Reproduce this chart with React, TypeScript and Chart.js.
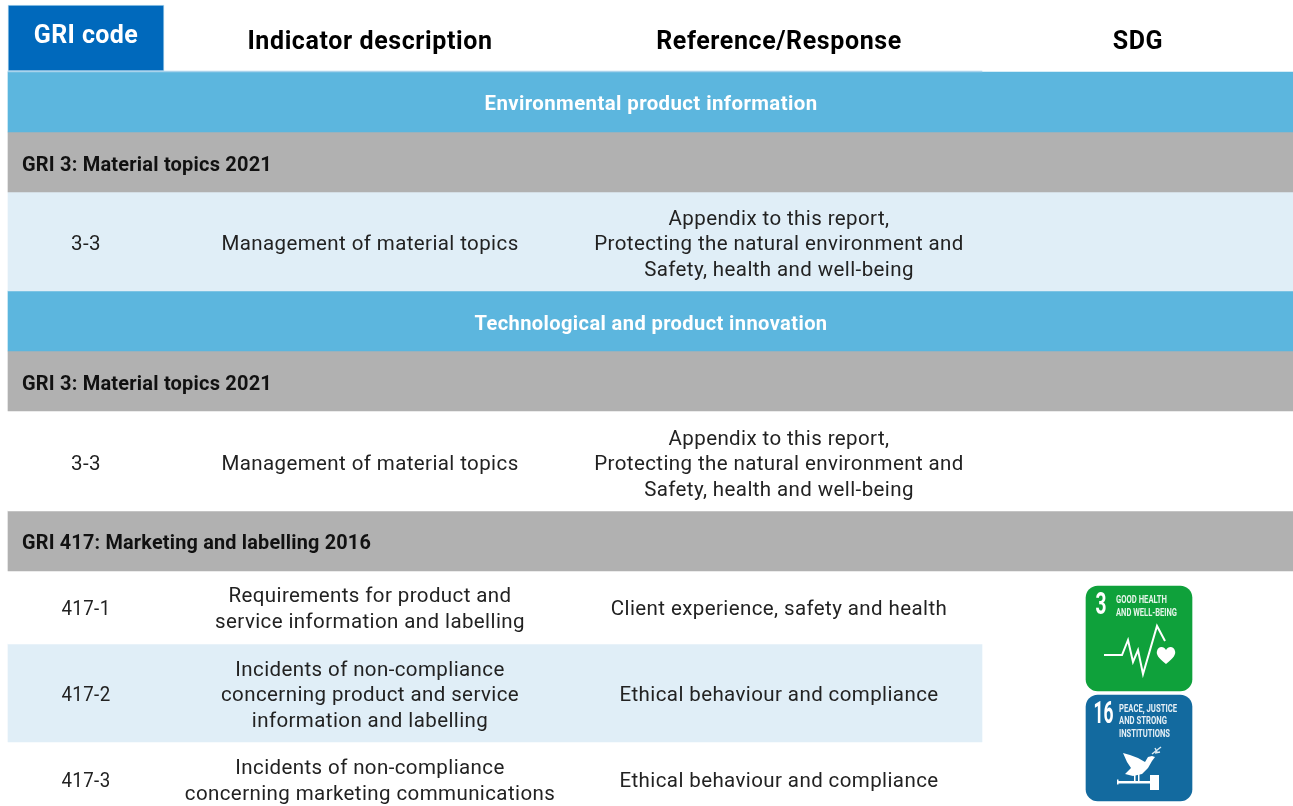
import React, { useEffect, useRef } from "react";
import { Chart, registerables } from "chart.js";

Chart.register(...registerables);

// ---- content ----
const columnHeaders = ["GRI code", "Indicator description", "Reference/Response", "SDG"];
const sectionTitles = ["Environmental product information", "Technological and product innovation"];
const groupTitles = ["GRI 3: Material topics 2021", "GRI 3: Material topics 2021", "GRI 417: Marketing and labelling 2016"];
const griCodes = ["3-3", "3-3", "417-1", "417-2", "417-3"];
const indicators = [
  ["Management of material topics"],
  ["Management of material topics"],
  ["Requirements for product and", "service information and labelling"],
  ["Incidents of non-compliance", "concerning product and service", "information and labelling"],
  ["Incidents of non-compliance", "concerning marketing communications"],
];
const references = [
  ["Appendix to this report,", "Protecting the natural environment and", "Safety, health and well-being"],
  ["Appendix to this report,", "Protecting the natural environment and", "Safety, health and well-being"],
  ["Client experience, safety and health"],
  ["Ethical behaviour and compliance"],
  ["Ethical behaviour and compliance"],
];
const sdgNumbers = ["3", "16"];
const sdgCaptions = [
  ["GOOD HEALTH", "AND WELL-BEING"],
  ["PEACE, JUSTICE", "AND STRONG", "INSTITUTIONS"],
];

// ---- table geometry, in table units ----
const bandStart = [8, 8, 8, 8, 8, 8, 8, 8, 8];
const bandEnd = [1293, 1293, 1293, 1293, 1293, 1293, 1293, 1293, 982];
const bandTop = [72, 132, 192, 291, 351, 411, 511, 571, 644];
const bandBottom = [132, 192, 291, 351, 411, 511, 571, 644, 742];
const bandColors = ["#5CB6DE", "#B1B1B1", "#E0EEF7", "#5CB6DE", "#B1B1B1", "#FFFFFF", "#B1B1B1", "#FFFFFF", "#E0EEF7"];
const columnCenters = [86, 370, 779, 1138];
const sectionY = [105, 325];
const groupY = [166, 385, 544];
const rowY = [245, 465, 610, 696, 782];
const LINE = 25.5;

const heartbeatLine = [[1104, 655], [1122, 655], [1128, 640], [1133, 662], [1138, 650], [1143, 674], [1157, 626], [1165, 641]];
const doveOutline = [[1123, 753], [1130, 755], [1138, 758], [1145, 762], [1148, 757], [1152, 756], [1155, 757], [1152, 761], [1148, 768], [1142, 774], [1133, 776], [1125, 774], [1131, 768], [1127, 762]];

const FONT = "Roboto, sans-serif";

const tablePlugin = {
  id: "tableText",
  afterDatasetsDraw(chart: any) {
    const { ctx, scales } = chart;
    const X = (v: number) => scales.x.getPixelForValue(v);
    const Y = (v: number) => scales.y.getPixelForValue(v);
    const put = (s: string, x: number, y: number, font: string, color: string, align: CanvasTextAlign = "center", spacing = "0px", maxW?: number) => {
      ctx.font = font;
      (ctx as any).letterSpacing = spacing;
      ctx.fillStyle = color;
      ctx.textAlign = align;
      ctx.textBaseline = "middle";
      if (maxW) ctx.fillText(s, X(x), Y(y), maxW);
      else ctx.fillText(s, X(x), Y(y));
    };
    ctx.save();
    put(columnHeaders[0], columnCenters[0], 37, `700 25px ${FONT}`, "#FFFFFF", "center", "0.4px");
    for (let i = 1; i < 4; i++) put(columnHeaders[i], columnCenters[i], 43, `700 25px ${FONT}`, "#000000", "center", "0.6px");
    sectionTitles.forEach((s, i) => put(s, 651, sectionY[i], `700 20.5px ${FONT}`, "#FFFFFF", "center", "0.4px", 353 - (1 - i) * 20));
    groupTitles.forEach((s, i) => put(s, 22, groupY[i], `700 20px ${FONT}`, "#111111", "left", "0.2px", i === 2 ? 349 : undefined));
    griCodes.forEach((s, i) => put(s, columnCenters[0], rowY[i], `400 20.5px ${FONT}`, "#222222", "center", "0.4px", s.length > 3 ? 49 : undefined));
    const block = (lines: string[], cx: number, cy: number) =>
      lines.forEach((l, j) => put(l, cx, cy + (j - (lines.length - 1) / 2) * LINE, `400 20.5px ${FONT}`, "#222222", "center", "0.4px"));
    indicators.forEach((l, i) => block(l, columnCenters[1], rowY[i]));
    references.forEach((l, i) => block(l, columnCenters[2], rowY[i]));

    // SDG tile 3
    put(sdgNumbers[0], 1101, 606, `700 31px ${FONT}`, "#FFFFFF", "center", "0px", 11);
    put(sdgCaptions[0][0], 1116, 600, `700 10px ${FONT}`, "#E6F5EA", "left", "0px", 51);
    put(sdgCaptions[0][1], 1116, 613, `700 10px ${FONT}`, "#E6F5EA", "left", "0px", 61);
    ctx.strokeStyle = "#FFFFFF";
    ctx.lineWidth = 2;
    ctx.lineJoin = "miter";
    ctx.beginPath();
    heartbeatLine.forEach(([x, y], i) => (i ? ctx.lineTo(X(x), Y(y)) : ctx.moveTo(X(x), Y(y))));
    ctx.stroke();
    ctx.fillStyle = "#FFFFFF";
    ctx.beginPath();
    ctx.moveTo(X(1166), Y(664));
    ctx.bezierCurveTo(X(1158), Y(658), X(1156), Y(654), X(1157), Y(651));
    ctx.bezierCurveTo(X(1158), Y(646), X(1164), Y(646), X(1166), Y(650));
    ctx.bezierCurveTo(X(1168), Y(646), X(1174), Y(646), X(1175), Y(651));
    ctx.bezierCurveTo(X(1176), Y(654), X(1174), Y(658), X(1166), Y(664));
    ctx.fill();

    // SDG tile 16
    put(sdgNumbers[1], 1103.5, 715, `700 31px ${FONT}`, "#FFFFFF", "center", "0px", 20);
    sdgCaptions[1].forEach((l, i) =>
      put(l, 1119, 709 + i * 12.7, `700 10px ${FONT}`, "#E6F0F6", "left", "0px", [58, 48, 51][i]));
    ctx.fillStyle = "#FFFFFF";
    ctx.beginPath();
    doveOutline.forEach(([x, y], i) => (i ? ctx.lineTo(X(x), Y(y)) : ctx.moveTo(X(x), Y(y))));
    ctx.closePath();
    ctx.fill();
    ctx.fillRect(X(1117), Y(781), 33, 2.5);
    ctx.fillRect(X(1117), Y(779.5), 1.5, 5);
    ctx.fillRect(X(1134), Y(775), 1.5, 7);
    ctx.fillRect(X(1138), Y(774), 1.5, 8);
    ctx.fillRect(X(1150), Y(775), 9, 15);
    ctx.strokeStyle = "#DCEBF3";
    ctx.lineWidth = 1.4;
    [[1152, 754, 1161, 747], [1155, 753, 1160, 752], [1155, 748, 1157, 752]].forEach(([a, b, c, d]) => {
      ctx.beginPath();
      ctx.moveTo(X(a), Y(b));
      ctx.lineTo(X(c), Y(d));
      ctx.stroke();
    });
    ctx.restore();
  },
};

const bar = (x0: number, x1: number, top: number, bottom: number, color: string, extra: object = {}) => ({
  type: "bar" as const,
  data: [{ x: [x0, x1], y: (top + bottom) / 2 }],
  backgroundColor: color,
  barThickness: bottom - top,
  grouped: false,
  borderSkipped: false,
  ...extra,
});

export default function App() {
  const ref = useRef<HTMLCanvasElement>(null);
  useEffect(() => {
    // Chart.js paints the first dataset last, so the tiles lead the list.
    const datasets: any[] = [
      bar(1086, 1192, 586, 691, "#0FA13B", { borderRadius: 12 }),
      bar(1086, 1192, 695, 801, "#136A9F", { borderRadius: 12 }),
      bar(8, 164, 5, 71, "#0069BC", { borderColor: "#A9D3EC", borderWidth: 1 }),
      bar(8, 982, 71, 72, "#A9D3EC"),
      ...bandColors.map((c, i) => bar(bandStart[i], bandEnd[i], bandTop[i], bandBottom[i], c)),
    ];
    const chart = new Chart(ref.current!, {
      type: "bar",
      data: { datasets },
      options: {
        indexAxis: "y",
        responsive: false,
        animation: false,
        layout: { padding: 0 },
        plugins: { legend: { display: false }, tooltip: { enabled: false } },
        scales: {
          x: { type: "linear", min: 0, max: 1293, display: false, offset: false },
          y: { type: "linear", min: 0, max: 806, reverse: true, display: false, offset: false },
        },
      },
      plugins: [tablePlugin],
    } as any);
    return () => chart.destroy();
  }, []);
  return (
    <div style={{ position: "fixed", left: 0, top: 0, width: 1293, height: 806, background: "#FFFFFF" }}>
      <canvas ref={ref} width={1293} height={806} style={{ display: "block" }} />
    </div>
  );
}
